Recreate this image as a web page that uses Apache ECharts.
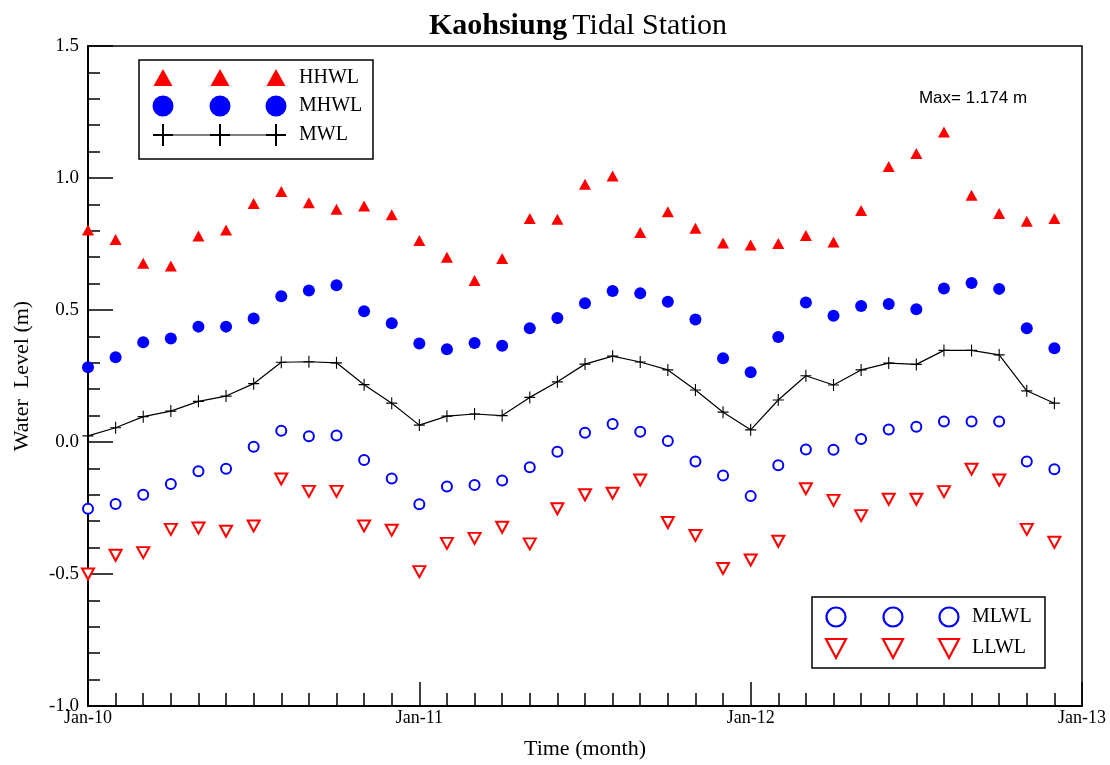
<!DOCTYPE html>
<html>
<head>
<meta charset="utf-8">
<script src="https://cdn.jsdelivr.net/npm/echarts@6/dist/echarts.min.js"></script>
<style>
  html, body { margin: 0; padding: 0; background: #fff; }
  #chart { width: 1110px; height: 765px; }
</style>
</head>
<body>
<div id="chart"></div>
<script>
// Monthly tidal levels (m), Jan 2010 - Dec 2012, one value per month
const yearTicks = ['Jan-10', 'Jan-11', 'Jan-12', 'Jan-13'];

const HHWL = [0.803, 0.767, 0.677, 0.667, 0.780, 0.803, 0.903, 0.949, 0.906, 0.882, 0.894, 0.861,
              0.763, 0.700, 0.612, 0.695, 0.847, 0.844, 0.976, 1.008, 0.794, 0.872, 0.810, 0.754,
              0.746, 0.752, 0.782, 0.758, 0.877, 1.044, 1.093, 1.174, 0.935, 0.866, 0.836, 0.847];

const MHWL = [0.283, 0.321, 0.378, 0.392, 0.437, 0.437, 0.468, 0.552, 0.574, 0.594, 0.495, 0.450,
              0.373, 0.351, 0.375, 0.365, 0.431, 0.470, 0.526, 0.572, 0.563, 0.531, 0.464, 0.317,
              0.264, 0.398, 0.528, 0.478, 0.515, 0.523, 0.503, 0.581, 0.602, 0.580, 0.431, 0.355];

const MWL  = [0.023, 0.054, 0.096, 0.117, 0.154, 0.174, 0.221, 0.302, 0.304, 0.300, 0.217, 0.147,
              0.064, 0.098, 0.106, 0.100, 0.169, 0.228, 0.295, 0.325, 0.303, 0.273, 0.197, 0.113,
              0.046, 0.159, 0.251, 0.216, 0.273, 0.299, 0.294, 0.347, 0.347, 0.330, 0.194, 0.147];

const MLWL = [-0.253, -0.235, -0.200, -0.159, -0.111, -0.101, -0.018, 0.043, 0.022, 0.025, -0.068, -0.138,
              -0.236, -0.169, -0.163, -0.146, -0.096, -0.037, 0.035, 0.068, 0.039, 0.004, -0.074, -0.127,
              -0.205, -0.088, -0.028, -0.029, 0.011, 0.047, 0.058, 0.078, 0.078, 0.078, -0.074, -0.103];

const LLWL = [-0.500, -0.429, -0.419, -0.331, -0.326, -0.338, -0.318, -0.140, -0.187, -0.187, -0.318, -0.334,
              -0.491, -0.384, -0.365, -0.323, -0.386, -0.253, -0.200, -0.194, -0.144, -0.305, -0.354, -0.479,
              -0.447, -0.376, -0.177, -0.221, -0.279, -0.217, -0.217, -0.188, -0.103, -0.144, -0.331, -0.380];

const RED = '#ff0000';
const BLUE = '#0000ff';
const SERIF = '"Liberation Serif", "Times New Roman", serif';
const SANS = '"Liberation Sans", Arial, sans-serif';

// plus-sign marker, drawn as two thin filled bars
const PLUS = 'path://M0,5.4H12V6.6H0Z M5.4,0H6.6V12H5.4Z';

const toPoints = arr => arr.map((v, i) => [i, v]);
const maxHH = Math.max(...HHWL);

const chart = echarts.init(document.getElementById('chart'), null, { renderer: 'canvas' });

// legend boxes drawn as graphic groups (three sample symbols + label per row)
function legendRow(y, x0, kind, label) {
  const xs = [x0, x0 + 57, x0 + 113];
  const els = [];
  if (kind === 'MWL') {
    els.push({ type: 'line', shape: { x1: xs[0] - 10, y1: y, x2: xs[2] + 10, y2: y },
               style: { stroke: '#000', lineWidth: 1.2 } });
  }
  xs.forEach(x => {
    if (kind === 'HHWL') {
      els.push({ type: 'polygon', shape: { points: [[x, y - 9], [x - 9.5, y + 8], [x + 9.5, y + 8]] },
                 style: { fill: RED } });
    } else if (kind === 'MHWL') {
      els.push({ type: 'circle', shape: { cx: x, cy: y, r: 10.5 }, style: { fill: BLUE } });
    } else if (kind === 'MWL') {
      els.push({ type: 'line', shape: { x1: x - 10, y1: y, x2: x + 10, y2: y }, style: { stroke: '#000', lineWidth: 2 } });
      els.push({ type: 'line', shape: { x1: x, y1: y - 11, x2: x, y2: y + 11 }, style: { stroke: '#000', lineWidth: 2 } });
    } else if (kind === 'MLWL') {
      els.push({ type: 'circle', shape: { cx: x, cy: y, r: 9.5 }, style: { fill: '#fff', stroke: BLUE, lineWidth: 2.2 } });
    } else if (kind === 'LLWL') {
      els.push({ type: 'polygon', shape: { points: [[x - 10, y - 9], [x + 10, y - 9], [x, y + 10]] },
                 style: { fill: '#fff', stroke: RED, lineWidth: 2.2 } });
    }
  });
  els.push({ type: 'text', x: xs[2] + 23, y: y, style: { text: label, font: '20px ' + SERIF,
             fill: '#000', verticalAlign: 'middle', textAlign: 'left' } });
  return els;
}

const graphics = [
  { type: 'rect', shape: { x: 139, y: 60, width: 234, height: 99 },
    style: { fill: '#fff', stroke: '#000', lineWidth: 1.5 }, z: 10 },
  ...legendRow(78, 163, 'HHWL', 'HHWL').map(e => Object.assign(e, { z: 11 })),
  ...legendRow(106, 163, 'MHWL', 'MHWL').map(e => Object.assign(e, { z: 11 })),
  ...legendRow(135, 163, 'MWL', 'MWL').map(e => Object.assign(e, { z: 11 })),
  { type: 'rect', shape: { x: 812, y: 597, width: 233, height: 71 },
    style: { fill: '#fff', stroke: '#000', lineWidth: 1.5 }, z: 10 },
  ...legendRow(617, 836, 'MLWL', 'MLWL').map(e => Object.assign(e, { z: 11 })),
  ...legendRow(648, 836, 'LLWL', 'LLWL').map(e => Object.assign(e, { z: 11 })),
  { type: 'text', x: 973, y: 98, z: 11,
    style: { text: 'Max= ' + maxHH.toFixed(3) + ' m', font: '17px ' + SANS, fill: '#000',
             textAlign: 'center', verticalAlign: 'middle' } }
];

const option = {
  backgroundColor: '#fff',
  animation: false,
  title: {
    text: '{b|Kaohsiung} {n|Tidal Station}',
    left: 573, top: 6, textAlign: 'center',
    textStyle: {
      rich: {
        b: { fontFamily: SERIF, fontSize: 30, fontWeight: 'bold', color: '#000' },
        n: { fontFamily: SERIF, fontSize: 30, fontWeight: 'normal', color: '#000' }
      }
    }
  },
  grid: { left: 88, right: 28, top: 46, bottom: 59, show: true, borderColor: '#000', borderWidth: 1.5,
          backgroundColor: 'transparent', containLabel: false, outerBoundsMode: 'none' },
  xAxis: {
    type: 'value', min: 0, max: 36, interval: 12,
    name: 'Time (month)', nameLocation: 'middle', nameGap: 32,
    nameTextStyle: { fontFamily: SERIF, fontSize: 22, color: '#000' },
    axisLine: { onZero: false, lineStyle: { color: '#000', width: 2 } },
    axisTick: { show: true, inside: true, length: 24, lineStyle: { color: '#000', width: 1.5 } },
    minorTick: { show: true, splitNumber: 12, length: 13, lineStyle: { color: '#000', width: 1.5 } },
    splitLine: { show: false },
    minorSplitLine: { show: false },
    axisLabel: { margin: 3, fontFamily: SERIF, fontSize: 18, color: '#000',
                 formatter: v => yearTicks[Math.round(v / 12)] }
  },
  yAxis: {
    type: 'value', min: -1, max: 1.5, interval: 0.5,
    name: 'Water  Level (m)', nameLocation: 'middle', nameGap: 55, nameRotate: 90,
    nameTextStyle: { fontFamily: SERIF, fontSize: 22, color: '#000' },
    axisLine: { show: true, onZero: false, lineStyle: { color: '#000', width: 2 } },
    axisTick: { show: true, inside: true, length: 25, lineStyle: { color: '#000', width: 1.5 } },
    minorTick: { show: true, splitNumber: 5, length: 12, lineStyle: { color: '#000', width: 1.5 } },
    splitLine: { show: false },
    minorSplitLine: { show: false },
    axisLabel: { margin: 9, fontFamily: SERIF, fontSize: 19, color: '#000',
                 formatter: v => v.toFixed(1) }
  },
  series: [
    { name: 'HHWL', type: 'scatter', data: toPoints(HHWL), symbol: 'triangle', symbolSize: [12, 11],
      itemStyle: { color: RED, opacity: 1 } },
    { name: 'MHWL', type: 'scatter', data: toPoints(MHWL), symbol: 'circle', symbolSize: 12,
      itemStyle: { color: BLUE, opacity: 1 } },
    { name: 'MWL', type: 'line', data: toPoints(MWL), symbol: PLUS, symbolSize: [11, 12],
      showAllSymbol: true, lineStyle: { color: '#000', width: 1.2 },
      itemStyle: { color: '#000', opacity: 1 } },
    { name: 'MLWL', type: 'scatter', data: toPoints(MLWL), symbol: 'emptyCircle', symbolSize: 10,
      itemStyle: { color: BLUE, borderColor: BLUE, borderWidth: 2, opacity: 1 } },
    { name: 'LLWL', type: 'scatter', data: toPoints(LLWL), symbol: 'emptyTriangle', symbolSize: [12, 11],
      symbolRotate: 180, itemStyle: { color: RED, borderColor: RED, borderWidth: 2, opacity: 1 } }
  ],
  graphic: graphics
};

chart.setOption(option);
</script>
</body>
</html>
